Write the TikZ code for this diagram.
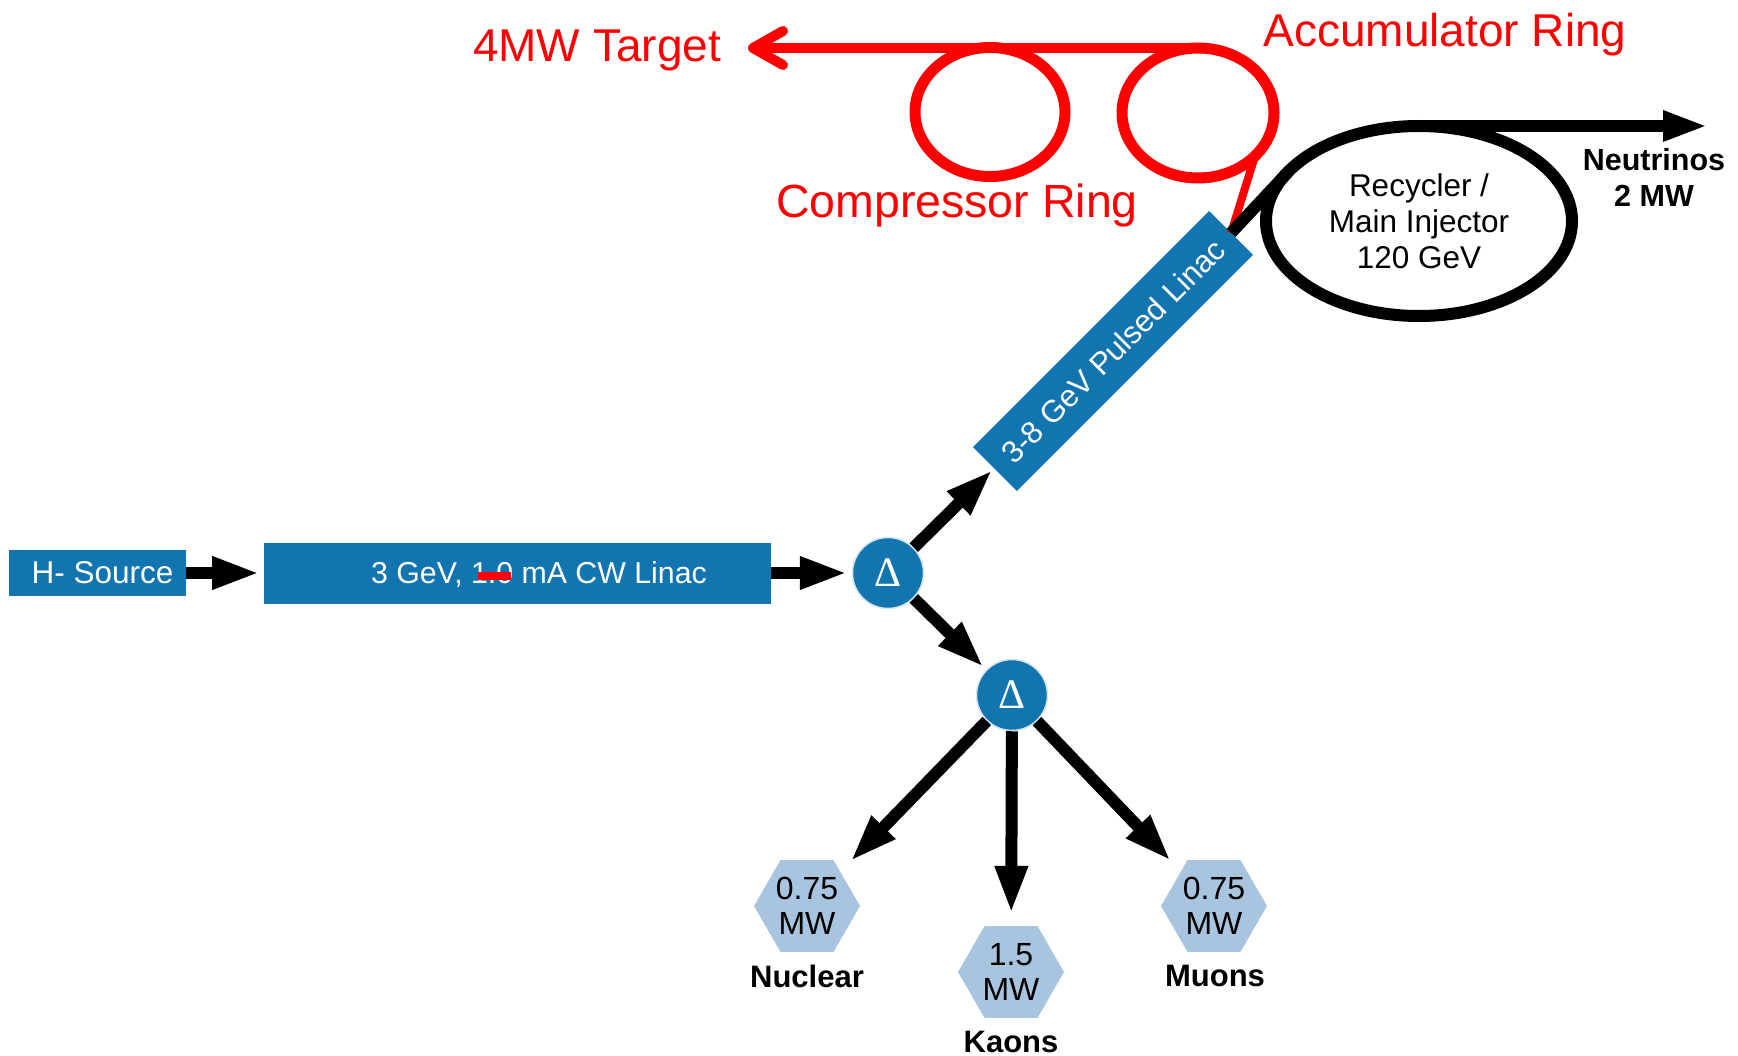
\documentclass[tikz,border=0pt]{standalone}
\usepackage{fontspec}
\setmainfont{Liberation Sans}
\newfontfamily\deltafont{Liberation Serif}
\usetikzlibrary{arrows.meta,shapes.geometric}
\definecolor{boxblue}{RGB}{18,117,175}
\definecolor{hexblue}{RGB}{168,196,222}
\begin{document}
\begin{tikzpicture}[x=1pt,y=-1pt,
  bluebox/.style={fill=boxblue,text=white,inner sep=0pt,outer sep=0pt,text depth=0pt},
  arr/.style={line width=12pt,-{Triangle[length=48pt,width=30pt]}},
  deltanode/.style={circle,fill=boxblue,draw=white!80!boxblue,line width=1.5pt,minimum size=71pt,inner sep=0pt,text=white,font=\deltafont\fontsize{42}{42}\selectfont},
  hexnode/.style={regular polygon,regular polygon sides=6,minimum size=106pt,inner sep=0pt,fill=hexblue,align=center,font=\fontsize{32}{35}\selectfont},
  lab/.style={font=\bfseries\fontsize{31}{34}\selectfont,anchor=base,inner sep=0pt},
  redtext/.style={text=red,anchor=base,inner sep=0pt},
  ring/.style={ellipse,draw=red,line width=11pt,outer sep=0pt,inner sep=0pt}
]
\useasboundingbox (0,0) rectangle (1738,1056);

% blue boxes
\node[bluebox,minimum width=177pt,minimum height=46pt,font=\fontsize{31.5}{36}\selectfont] (hs) at (97.5,573) {\hspace*{10pt}H- Source};
\node[bluebox,minimum width=507pt,minimum height=61pt,font=\fontsize{30.3}{36}\selectfont] (cw) at (517.5,573) {\hspace*{43pt}3 GeV, 1.0\llap{\textcolor{red}{\rule[4pt]{33pt}{8pt}}\hspace{2pt}} mA CW Linac};
\node[deltanode] (d1) at (888,573) {Δ};
\node[deltanode] (d2) at (1012,695) {Δ};
\node[bluebox,rotate=45,minimum width=334pt,minimum height=62pt,font=\fontsize{31}{36}\selectfont] (pl) at (1113,351) {3-8 GeV Pulsed Linac};

% recycler
\node[ellipse,draw=black,line width=12pt,outer sep=0pt,inner sep=0pt,minimum width=306pt,minimum height=190pt,align=center,font=\fontsize{31.5}{36}\selectfont] (rec) at (1419,221) {Recycler /\\Main Injector\\120 GeV};
\node[font=\bfseries\fontsize{30.5}{36}\selectfont,align=center] (neu) at (1654,177) {Neutrinos\\2 MW};
\coordinate (nutip) at (1708,126);

% targets
\node[hexnode] (nuc) at (807,906) {0.75\\MW};
\node[hexnode] (kao) at (1011,972) {1.5\\MW};
\node[hexnode] (muo) at (1214,906) {0.75\\MW};
\node[lab] (nuclab) at (807,987) {Nuclear};
\node[lab] (kaolab) at (1011,1052) {Kaons};
\node[lab] (muolab) at (1215,986) {Muons};

% red additions
\node[ring,minimum width=150pt,minimum height=129pt] (comp) at (990,112) {};
\node[ring,minimum width=152pt,minimum height=130pt] (acc) at (1198,113) {};
\node[redtext,font=\fontsize{46}{50}\selectfont] (tgtlab) at (597,62) {4MW Target};
\node[redtext,font=\fontsize{46.5}{50}\selectfont] (complab) at (957,218) {Compressor Ring};
\node[redtext,font=\fontsize{46}{50}\selectfont] (acclab) at (1445,47) {Accumulator Ring};
\coordinate (tgtip) at (748,48);

% connectors
\draw[arr,shorten >=4pt] (hs) -- (cw);
\draw[arr,shorten >=4pt] (cw) -- (d1);
\draw[arr,shorten >=2pt] (d1) -- (pl);
\draw[arr,shorten >=3pt] (d1) -- (d2);
\draw[arr,shorten >=14pt] (d2) -- (nuc);
\draw[arr,shorten >=12pt] (d2) -- (kao);
\draw[arr,shorten >=14pt] (d2) -- (muo);

\draw[red,line width=8pt] (acc.-37) -- (pl.east);
\draw[line width=12pt] (pl.east) -- (rec.159);
\draw[line width=12pt,-{Triangle[length=45pt,width=28pt]}] (rec.north) -- (nutip);
\draw[red,line width=10pt,-{Straight Barb[length=30pt,width=34pt,round]}] (acc.north) -- (tgtip);
\end{tikzpicture}
\end{document}
